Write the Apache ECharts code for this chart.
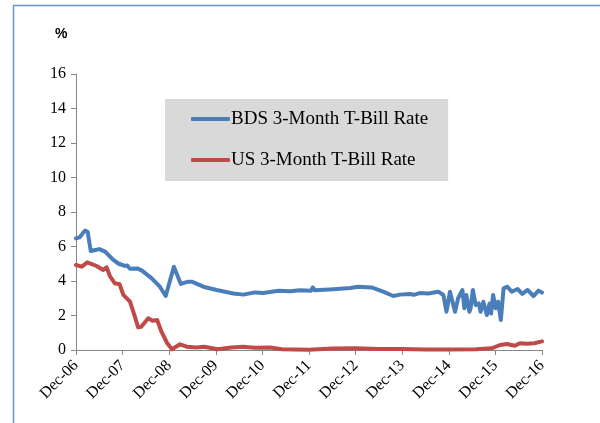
<!DOCTYPE html>
<html lang="en">
<head>
    <meta charset="UTF-8">
    <style>
        body { margin: 0; background: #fff; }
        #main { width: 600px; height: 423px; }
    </style>
    <title>T-Bill Rates</title>
</head>
<body>
    <div id="main"></div>
    <script src="https://cdn.jsdelivr.net/npm/echarts@6/dist/echarts.min.js"></script>
    <script>
        // x = months since Dec-06
        var xTickLabels = ['Dec-06', 'Dec-07', 'Dec-08', 'Dec-09', 'Dec-10', 'Dec-11',
            'Dec-12', 'Dec-13', 'Dec-14', 'Dec-15', 'Dec-16'];
        var seriesNames = ['BDS 3-Month T-Bill Rate', 'US 3-Month T-Bill Rate'];

        var bdsMonths = [0, 1, 2.3, 3, 3.8, 5, 6, 7.5, 9.6, 11, 12.6, 13.2, 13.9, 15.8, 17, 19.5,
            21.6, 23.1, 25.2, 27, 28.9, 29.8, 32.8, 36.2, 40.5, 43.1, 46.1, 48.2, 52.1, 55.1,
            57.7, 60.5, 61, 61.5, 66.3, 70.6, 72.7, 76.1, 79.1, 81.7, 83.4, 86, 86.5, 87, 88.5,
            90.7, 93.3, 94.6, 95.4, 95.7, 96.3, 97.6, 98.4, 99.5, 100, 100.5, 101.3, 101.6, 102.2, 102.9,
            103.7, 104.2, 104.9, 105.8, 106.5, 106.9, 107.4, 108.1, 108.7, 109.4, 110.1, 111.1,
            112.2, 113.7, 114.9, 116.3, 117.8, 119.1, 120];
        var bdsRates = [6.47, 6.55, 6.92, 6.85, 5.74, 5.80, 5.85, 5.70, 5.22, 5.00, 4.87, 4.90,
            4.71, 4.73, 4.60, 4.15, 3.67, 3.13, 4.83, 3.83, 3.96, 3.96, 3.67, 3.48, 3.28, 3.21,
            3.34, 3.30, 3.44, 3.40, 3.46, 3.44, 3.63, 3.46, 3.52, 3.59, 3.67, 3.63, 3.38, 3.13,
            3.21, 3.25, 3.32, 3.20, 3.30, 3.28, 3.38, 3.19, 2.22, 2.60, 3.38, 2.22, 3.00, 3.48, 2.42,
            3.19, 2.22, 2.40, 3.48, 2.61, 2.70, 2.22, 2.80, 2.03, 2.70, 2.12, 3.19, 2.42, 2.80, 1.74,
            3.57, 3.67, 3.38, 3.54, 3.25, 3.48, 3.13, 3.44, 3.33];

        var usMonths = [0, 1.5, 2.9, 5.3, 7, 7.9, 8.8, 10, 11.2, 12.2, 13.9, 14.9, 16, 16.8,
            18.6, 19.7, 20.9, 22, 23.5, 24.7, 26.8, 28.5, 31, 33, 36.5, 40, 43, 46, 50, 53, 60,
            66, 72, 78, 84, 90, 96, 103, 107, 109.2, 111, 113, 114.3, 116, 118, 120];
        var usRates = [4.93, 4.83, 5.08, 4.87, 4.64, 4.79, 4.25, 3.86, 3.83, 3.19, 2.80, 2.12,
            1.31, 1.35, 1.84, 1.70, 1.74, 1.06, 0.39, 0.04, 0.33, 0.19, 0.15, 0.19, 0.04, 0.15,
            0.19, 0.13, 0.15, 0.04, 0.02, 0.08, 0.10, 0.06, 0.06, 0.03, 0.03, 0.04, 0.10, 0.29,
            0.35, 0.25, 0.39, 0.36, 0.39, 0.50];

        function pairs(xs, ys) {
            return xs.map(function (x, i) { return [x, ys[i]]; });
        }

        var serif = '"Liberation Serif", "Times New Roman", serif';

        var option = {
            animation: false,
            backgroundColor: '#fff',
            title: {
                text: '%',
                left: 50,
                top: 22,
                textStyle: {
                    fontFamily: '"Liberation Sans", Arial, sans-serif',
                    fontSize: 14,
                    fontWeight: 'bold',
                    color: '#000'
                }
            },
            graphic: [{
                type: 'rect',
                shape: { x: 13.5, y: 5.5, width: 700, height: 500 },
                style: { fill: 'none', stroke: '#6a93cf', lineWidth: 1.5 },
                silent: true
            }],
            legend: {
                orient: 'vertical',
                left: 165,
                top: 99,
                backgroundColor: '#d9d9d9',
                padding: [9, 20, 10, 26],
                itemGap: 19,
                itemWidth: 39,
                itemHeight: 4,
                icon: 'roundRect',
                data: seriesNames,
                textStyle: {
                    fontFamily: serif,
                    fontSize: 19,
                    lineHeight: 22,
                    color: '#000',
                    padding: [0, 0, 0, -4]
                }
            },
            grid: {
                left: 76,
                right: 58,
                top: 74,
                bottom: 73
            },
            xAxis: {
                type: 'value',
                min: 0,
                max: 120,
                interval: 12,
                splitLine: { show: false },
                axisLine: { lineStyle: { color: '#868686', width: 1 } },
                axisTick: { show: true, length: 5, lineStyle: { color: '#868686' } },
                axisLabel: {
                    rotate: 45,
                    margin: 13,
                    fontFamily: serif,
                    fontSize: 16,
                    color: '#000',
                    formatter: function (v) { return xTickLabels[Math.round(v / 12)]; }
                }
            },
            yAxis: {
                type: 'value',
                min: 0,
                max: 16,
                interval: 2,
                splitLine: { show: false },
                axisLine: { show: true, lineStyle: { color: '#868686', width: 1 } },
                axisTick: { show: true, length: 5, lineStyle: { color: '#868686' } },
                axisLabel: {
                    margin: 10,
                    fontFamily: serif,
                    fontSize: 16,
                    color: '#000'
                }
            },
            series: [{
                name: seriesNames[0],
                type: 'line',
                showSymbol: false,
                color: '#4a7ebb',
                lineStyle: { width: 4, cap: 'round', join: 'round' },
                data: pairs(bdsMonths, bdsRates)
            }, {
                name: seriesNames[1],
                type: 'line',
                showSymbol: false,
                color: '#be4b48',
                lineStyle: { width: 4, cap: 'round', join: 'round' },
                data: pairs(usMonths, usRates)
            }]
        };

        var myChart = echarts.init(document.getElementById('main'));
        myChart.setOption(option);
    </script>
</body>
</html>
